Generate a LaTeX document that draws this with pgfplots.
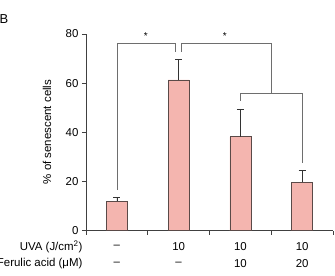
\documentclass[border=0pt]{standalone}
\usepackage{pgfplots}
\pgfplotsset{compat=1.18}
\usepackage{fontspec}
\setmainfont{Liberation Sans}
\definecolor{barfill}{HTML}{F4B5AF}
\definecolor{baredge}{HTML}{5A4A48}
\definecolor{brk}{HTML}{6E6E6E}
\begin{document}
\begin{tikzpicture}[x=1bp,y=1bp]
\useasboundingbox (-86,-45.3) rectangle (249,230.7);
\begin{axis}[
  at={(0,0)}, anchor=origin,
  scale only axis, width=247bp, height=196.7bp,
  xmin=0, xmax=4, ymin=0, ymax=80,
  axis lines=left, axis line style={-, color=black!75, line width=0.6pt},
  xtick={0,1,2,3,4}, xticklabels={},
  ytick={0,20,40,60,80},
  tick align=outside, major tick length=4bp,
  tick style={color=black!75, line width=0.6pt},
  tick label style={font=\fontsize{11.5}{13}\selectfont},
  /pgf/number format/assume math mode=true,
  clip=false,
]
\addplot[ybar, bar width=21bp, fill=barfill, draw=baredge, line width=0.6pt,
  error bars/.cd, y dir=plus, y explicit,
  error bar style={color=black!80, line width=0.6pt},
  error mark options={rotate=90, mark size=3.5bp, color=black!80, line width=0.6pt}]
  coordinates {
    (0.5,12.0) +- (0,1.7)
    (1.5,61.3) +- (0,8.5)
    (2.5,38.2) +- (0,11.3)
    (3.5,19.8) +- (0,4.7)
  };
% significance brackets
\draw[brk, line width=0.6pt] (axis cs:0.5,16.5) -- (axis cs:0.5,76.3) -- (axis cs:1.45,76.3) -- (axis cs:1.45,72.8);
\draw[brk, line width=0.6pt] (axis cs:1.55,72.8) -- (axis cs:1.55,76.3) -- (axis cs:3.0,76.3) -- (axis cs:3.0,55.7);
\draw[brk, line width=0.6pt] (axis cs:2.5,52.8) -- (axis cs:2.5,55.7) -- (axis cs:3.5,55.7) -- (axis cs:3.5,27.6);
\node[font=\fontsize{10}{12}\selectfont] at (axis cs:0.97,79.0) {*};
\node[font=\fontsize{10}{12}\selectfont] at (axis cs:2.25,79.0) {*};
% treatment rows
\node[font=\fontsize{11.5}{13}\selectfont] at ([yshift=-16bp]axis cs:0.5,0) {–};
\node[font=\fontsize{11.5}{13}\selectfont] at ([yshift=-16bp]axis cs:1.5,0) {10};
\node[font=\fontsize{11.5}{13}\selectfont] at ([yshift=-16bp]axis cs:2.5,0) {10};
\node[font=\fontsize{11.5}{13}\selectfont] at ([yshift=-16bp]axis cs:3.5,0) {10};
\node[font=\fontsize{11.5}{13}\selectfont] at ([yshift=-33.3bp]axis cs:0.5,0) {–};
\node[font=\fontsize{11.5}{13}\selectfont] at ([yshift=-33.3bp]axis cs:1.5,0) {–};
\node[font=\fontsize{11.5}{13}\selectfont] at ([yshift=-33.3bp]axis cs:2.5,0) {10};
\node[font=\fontsize{11.5}{13}\selectfont] at ([yshift=-33.3bp]axis cs:3.5,0) {20};
\node[font=\fontsize{11.5}{13}\selectfont, anchor=east] at ([yshift=-16bp]axis cs:0,0) {UVA (J/cm\textsuperscript{2})};
\node[font=\fontsize{11.5}{13}\selectfont, anchor=east] at ([yshift=-33.3bp]axis cs:0,0) {Ferulic acid (μM)};
\end{axis}
\node[font=\fontsize{11.5}{13}\selectfont, rotate=90] at (-39,98.7) {\% of senescent cells};
\node[font=\fontsize{13}{15}\selectfont, anchor=west] at (-90,211.5) {B};
\end{tikzpicture}
\end{document}
